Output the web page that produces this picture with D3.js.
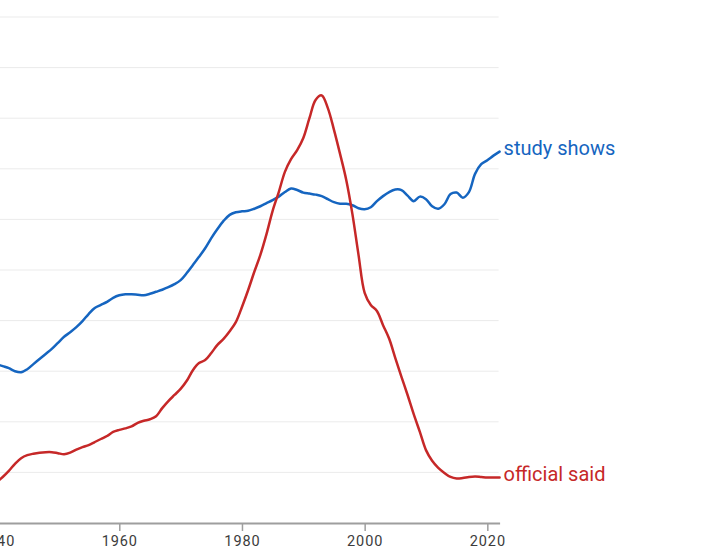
<!DOCTYPE html>
<html>
<head>
<meta charset="utf-8">
<script src="https://cdn.jsdelivr.net/npm/d3@7"></script>
<style>
  html, body { margin: 0; padding: 0; background: #fff; }
  svg { display: block; font-family: Roboto, "Noto Sans", sans-serif; }
</style>
</head>
<body>
<svg id="chart" width="720" height="550"></svg>
<script>
const years = d3.range(1940, 2023);
const xTicks = [1940, 1960, 1980, 2000, 2020];
const yTicks = [1, 2, 3, 4, 5, 6, 7, 8, 9, 10];
const seriesNames = ["study shows", "official said"];
const seriesColors = ["#1565c0", "#c62828"];

const studyShows = [
  3.14, 3.10, 3.06, 3.00, 2.98, 3.04, 3.14, 3.24, 3.34, 3.44,
  3.56, 3.68, 3.77, 3.87, 3.99, 4.13, 4.25, 4.31, 4.37, 4.45,
  4.50, 4.52, 4.52, 4.51, 4.50, 4.53, 4.57, 4.61, 4.66, 4.72,
  4.80, 4.94, 5.10, 5.26, 5.43, 5.63, 5.81, 5.97, 6.09, 6.14,
  6.16, 6.17, 6.21, 6.26, 6.32, 6.38, 6.45, 6.54, 6.61, 6.58,
  6.53, 6.51, 6.49, 6.46, 6.40, 6.34, 6.31, 6.31, 6.28, 6.22,
  6.20, 6.24, 6.36, 6.46, 6.54, 6.59, 6.58, 6.47, 6.36, 6.45,
  6.40, 6.26, 6.21, 6.30, 6.50, 6.53, 6.43, 6.54, 6.90, 7.09,
  7.17, 7.26, 7.34
];
const officialSaid = [
  0.81, 0.91, 1.03, 1.17, 1.28, 1.34, 1.37, 1.39, 1.40, 1.40,
  1.38, 1.36, 1.39, 1.45, 1.50, 1.54, 1.60, 1.66, 1.72, 1.80,
  1.84, 1.87, 1.91, 1.98, 2.02, 2.05, 2.11, 2.27, 2.41, 2.53,
  2.65, 2.81, 3.02, 3.16, 3.22, 3.36, 3.52, 3.64, 3.79, 3.97,
  4.27, 4.60, 4.96, 5.30, 5.71, 6.17, 6.54, 6.94, 7.19, 7.37,
  7.61, 8.00, 8.36, 8.45, 8.20, 7.77, 7.29, 6.78, 6.11, 5.30,
  4.55, 4.31, 4.19, 3.91, 3.64, 3.26, 2.89, 2.53, 2.15, 1.80,
  1.44, 1.23, 1.09, 0.99, 0.91, 0.88, 0.89, 0.91, 0.92, 0.91,
  0.90, 0.90, 0.90
];
const seriesValues = [studyShows, officialSaid];

const svg = d3.select("#chart");

const x = d3.scaleLinear().domain([1940, 2022]).range([-3.4, 499.6]);
const y = d3.scaleLinear().domain([0, 10]).range([523, 17]);

// gridlines
svg.append("g")
  .selectAll("line")
  .data(yTicks)
  .join("line")
  .attr("x1", 0)
  .attr("x2", x(2022) - 1)
  .attr("y1", d => y(d))
  .attr("y2", d => y(d))
  .attr("stroke", "#ebebeb")
  .attr("stroke-width", 1);

// x axis
const xAxis = svg.append("g")
  .attr("transform", `translate(0,${y(0)})`)
  .call(d3.axisBottom(x).tickValues(xTicks).tickFormat(d3.format("d")).tickSize(8).tickSizeOuter(0).tickPadding(5));
xAxis.select(".domain").attr("stroke", "#9e9e9e").attr("stroke-width", 2);
xAxis.selectAll(".tick line").attr("stroke", "#9e9e9e").attr("stroke-width", 1.5);
xAxis.selectAll(".tick text")
  .attr("fill", "#3c3c3c")
  .attr("font-size", 14.5)
  .attr("font-family", "Roboto, sans-serif")
  .style("letter-spacing", "0.9px");

// lines
const line = d3.line()
  .x((d, i) => x(years[i]))
  .y(d => y(d))
  .curve(d3.curveCatmullRom.alpha(0.5));

seriesValues.forEach((vals, k) => {
  svg.append("path")
    .datum(vals)
    .attr("fill", "none")
    .attr("stroke", seriesColors[k])
    .attr("stroke-width", 2.5)
    .attr("stroke-linejoin", "round")
    .attr("stroke-linecap", "round")
    .attr("d", line);

  const last = vals.length - 1;
  svg.append("text")
    .attr("x", x(years[last]) + 4)
    .attr("y", y(vals[last]))
    .attr("dy", "0.17em")
    .attr("fill", seriesColors[k])
    .attr("font-size", 20)
    .attr("font-family", "Roboto, sans-serif")
    .text(seriesNames[k]);
});
</script>
</body>
</html>
